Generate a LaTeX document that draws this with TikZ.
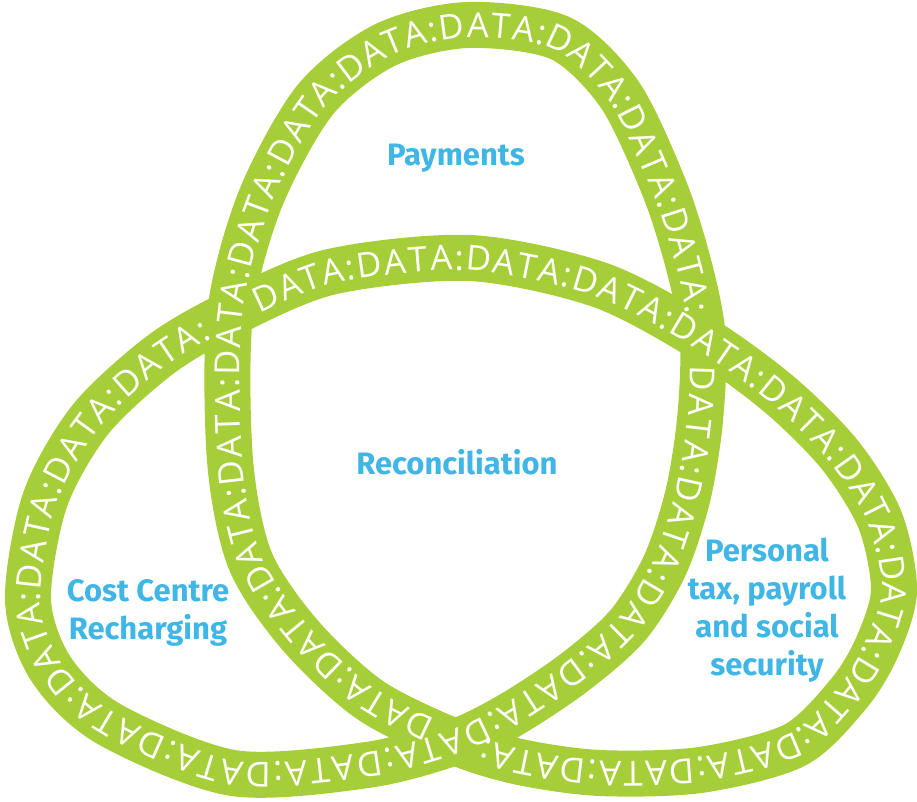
\documentclass[tikz,border=0pt]{standalone}
\usepackage{fontspec}
\usetikzlibrary{decorations.text}
\newfontfamily\datafont[Scale=3.45]{Open Sans}
\newfontfamily\labelfont{Fira Sans}
\definecolor{ringgreen}{RGB}{166,206,57}
\definecolor{labelblue}{RGB}{64,182,230}
\tikzset{
  ring/.style={draw=ringgreen, line width=46pt, line join=round},
  datatext/.style={decorate, decoration={text along path, raise=-12.3pt,
    text align={fit to path, left indent=27pt, right indent=27pt},
    text={|\datafont\color{white}|#1}}},
  lbl/.style={text=labelblue, align=center, font=\labelfont\bfseries\fontsize{31}{38}\selectfont}
}
\begin{document}
\begin{tikzpicture}[x=1pt,y=-1pt]
\useasboundingbox (0,0) rectangle (917,801);

\coordinate (c1) at (230,314);
\coordinate (c2) at (703,339);
\coordinate (c3) at (455,742);

\draw[ring] plot[smooth cycle] coordinates {(467,25) (560,38) (620,95) (665,190) (690,270) (c2)
  (700,420) (688,495) (665,565) (628,625) (575,672) (512,714) (c3) (367,765) (233,773) (109,724)
  (51,669) (28,600) (45,500) (90,420) (160,355) (c1) (330,272) (470,258) (600,285) (c2) (780,395)
  (840,455) (880,520) (894,590) (878,645) (850,692) (795,745) (700,770) (600,773) (520,762) (c3)
  (370,700) (300,635) (250,560) (230,460) (c1) (260,200) (315,100) (385,45)};

\path[datatext={DATA:DATA:DATA:DATA:DATA:DATA:DATA:DATA:DATA:DATA:DATA:DATA:}]
  plot[smooth] coordinates {(c2) (700,420) (688,495) (665,565) (628,625) (575,672) (512,714) (c3)
  (367,765) (233,773) (109,724) (51,669) (28,600) (45,500) (90,420) (160,355) (c1)};
\path[datatext={DATA:DATA:DATA:DATA:DATA:DATA:DATA:DATA:DATA:DATA:DATA:DATA:}]
  plot[smooth] coordinates {(c1) (330,272) (470,258) (600,285) (c2) (780,395) (840,455) (880,520)
  (894,590) (878,645) (850,692) (795,745) (700,770) (600,773) (520,762) (c3)};
\path[datatext={DATA:DATA:DATA:DATA:DATA:DATA:DATA:DATA:DATA:DATA:DATA:DATA:}]
  plot[smooth] coordinates {(c3) (370,700) (300,635) (250,560) (230,460) (c1) (260,200) (315,100)
  (385,45) (467,25) (560,38) (620,95) (665,190) (690,270) (c2)};

\node[lbl, anchor=base] (pay) at (456,165) {Payments};
\node[lbl, anchor=base] (rec) at (457,474) {Reconciliation};
\node[lbl, anchor=base] (ccr) at (148,639) {Cost Centre\\Recharging};
\node[lbl, anchor=base] (ptx) at (767,675) {Personal\\tax, payroll\\and social\\security};
\end{tikzpicture}
\end{document}
